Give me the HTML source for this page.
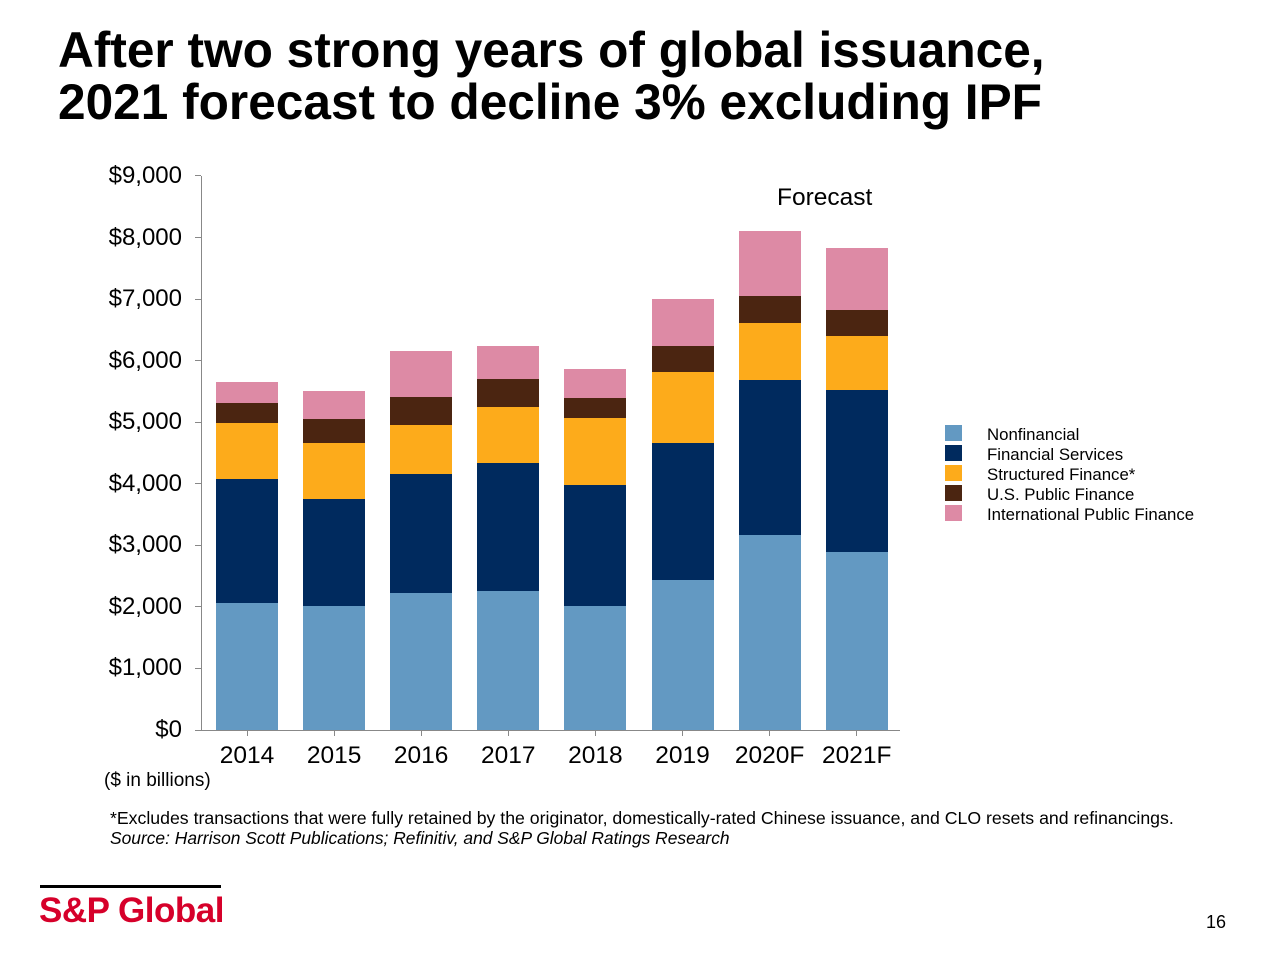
<!DOCTYPE html>
<html><head><meta charset="utf-8"><style>
body{margin:0;width:1280px;height:960px;background:#fff;font-family:"Liberation Sans",Arial,sans-serif;position:relative;overflow:hidden}
.a{position:absolute}
h1{position:absolute;left:58px;top:24px;margin:0;font-size:49.6px;line-height:52px;font-weight:bold;color:#000;white-space:nowrap}
.yl{position:absolute;right:1098px;font-size:24px;color:#000;line-height:24px}
.xl{position:absolute;top:743px;font-size:24.5px;width:100px;text-align:center;line-height:26px}
.lg{position:absolute;left:945px;width:17px;height:16px}
.lt{position:absolute;left:987px;font-size:16.8px;line-height:18px;white-space:nowrap}
</style></head><body>
<h1>After two strong years of global issuance,<br>2021 forecast to decline 3% excluding IPF</h1>
<div class="a" style="left:201px;top:176px;width:1px;height:555px;background:#888"></div>
<div class="a" style="left:201px;top:730px;width:699px;height:1px;background:#888"></div>
<div id="c"></div>
<div class="a" style="left:777px;top:184px;font-size:24.5px">Forecast</div>
<div class="a" style="left:104px;top:770px;font-size:19px">($ in billions)</div>
<div class="a" style="left:110px;top:808px;font-size:17.7px;white-space:nowrap">*Excludes transactions that were fully retained by the originator, domestically-rated Chinese issuance, and CLO resets and refinancings.</div>
<div class="a" style="left:110px;top:828px;font-size:17.4px;font-style:italic;white-space:nowrap">Source: Harrison Scott Publications; Refinitiv, and S&amp;P Global Ratings Research</div>
<div class="a" style="left:40px;top:885px;width:181px;height:3px;background:#000"></div>
<div class="a" style="left:39px;top:891px;font-size:35px;font-weight:bold;color:#D6002A;letter-spacing:-0.5px">S&amp;P Global</div>
<div class="a" style="left:1206px;top:912px;font-size:18px">16</div>
<div class="lg" style="top:425px;background:#6399C2"></div><div class="lt" style="top:426px">Nonfinancial</div>
<div class="lg" style="top:445px;background:#002A5E"></div><div class="lt" style="top:446px">Financial Services</div>
<div class="lg" style="top:465px;background:#FDAB1B"></div><div class="lt" style="top:466px">Structured Finance*</div>
<div class="lg" style="top:485px;background:#4B2511"></div><div class="lt" style="top:486px">U.S. Public Finance</div>
<div class="lg" style="top:505px;background:#DD8AA5"></div><div class="lt" style="top:506px">International Public Finance</div>
<script>
var c=document.getElementById('c'),h='';
var labs=['$0','$1,000','$2,000','$3,000','$4,000','$5,000','$6,000','$7,000','$8,000','$9,000'];
for(var i=0;i<10;i++){var y=730-i*61.56;h+='<div class="a" style="left:195px;top:'+(y-0.5)+'px;width:6px;height:1px;background:#888"></div><div class="yl" style="top:'+(y-12)+'px">'+labs[i]+'</div>';}
var xs=['2014','2015','2016','2017','2018','2019','2020F','2021F'];
var d=[[603,479,423,403,382],[606,499,443,419,391],[593,474,425,397,351],[591,463,407,379,346],[606,485,418,398,369],[580,443,372,346,299],[535,380,323,296,231],[552,390,336,310,248]];
var col=['#6399C2','#002A5E','#FDAB1B','#4B2511','#DD8AA5'];
for(var j=0;j<8;j++){var cx=247+j*87.1,l=cx-31,prev=730;
for(var k=0;k<5;k++){var t=d[j][k];h+='<div class="a" style="left:'+l+'px;top:'+t+'px;width:62px;height:'+(prev-t)+'px;background:'+col[k]+'"></div>';prev=t;}
h+='<div class="a" style="left:'+(cx-0.5)+'px;top:730px;width:1px;height:6px;background:#888"></div>';
h+='<div class="xl" style="left:'+(cx-50)+'px">'+xs[j]+'</div>';}
c.innerHTML=h;
</script>
</body></html>
